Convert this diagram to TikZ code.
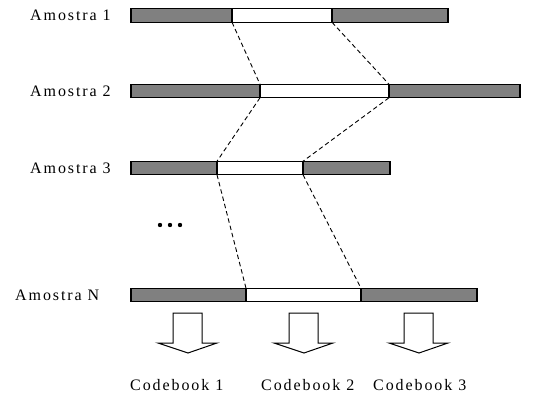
\documentclass[tikz,border=0pt]{standalone}
\usepackage{fontspec}
\setmainfont[LetterSpace=12]{Liberation Serif}
\begin{document}
\begin{tikzpicture}[x=1pt,y=-1pt,
  seg/.style={draw=black, line width=1.3pt, minimum height=13.5pt, inner sep=0pt, outer sep=0pt, anchor=west},
  grayseg/.style={seg, fill=black!50},
  whiteseg/.style={seg, fill=white},
  conn/.style={line width=0.9pt, dash pattern=on 4.5pt off 3pt},
  lbl/.style={font=\fontsize{16}{18}\selectfont, inner sep=0pt, anchor=west},
  blockarrow/.style={draw=black, line width=1pt, fill=white, line join=miter}
]
\useasboundingbox (0,0) rectangle (544,396);
\newcommand\amrow[6]{%
  \node[grayseg, minimum width={#4-#3}] (#1l) at (#3,#2) {};
  \node[grayseg, minimum width={#6-#5}] (#1r) at (#5,#2) {};
  \node[whiteseg, minimum width={#5-#4}] (#1w) at (#4,#2) {};
}
\amrow{a}{15.5}{131}{232}{332}{448}
\amrow{b}{91}{131}{260}{389}{520}
\amrow{c}{168}{131}{217}{303}{390}
\amrow{n}{295}{131}{246}{361}{477}

\node[lbl] (la) at (30,15) {Amostra 1};
\node[lbl] (lb) at (30,91) {Amostra 2};
\node[lbl] (lc) at (30,168) {Amostra 3};
\node[lbl] (ln) at (15,295) {Amostra N};

\draw[conn] (aw.south west) -- (bw.north west);
\draw[conn] (aw.south east) -- (bw.north east);
\draw[conn] (bw.south west) -- (cw.north west);
\draw[conn] (bw.south east) -- (cw.north east);
\draw[conn] (cw.south west) -- (nw.north west);
\draw[conn] (cw.south east) -- (nw.north east);

\foreach \x in {160,170,180} \fill (\x,225) circle (2.2pt);

\foreach \c in {188,304,419}{
  \draw[blockarrow] (\c-15,313) -- (\c+14,313) -- (\c+14,343) -- (\c+29,343) -- (\c,353) -- (\c-30,343) -- (\c-15,343) -- cycle;
}

\node[lbl] (cb1) at (130,385) {Codebook 1};
\node[lbl] (cb2) at (261,385) {Codebook 2};
\node[lbl] (cb3) at (373,385) {Codebook 3};
\end{tikzpicture}
\end{document}
